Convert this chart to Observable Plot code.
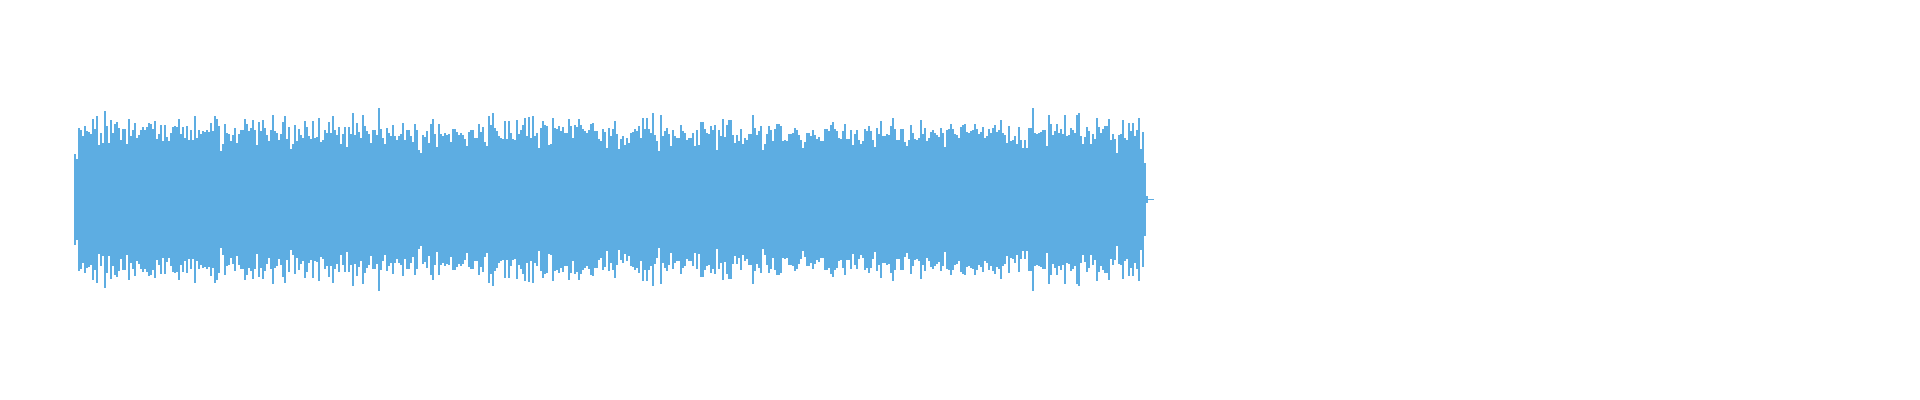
<!DOCTYPE html>
<html>
<head>
<meta charset="utf-8">
<script src="https://cdn.jsdelivr.net/npm/d3@7"></script>
<script src="https://cdn.jsdelivr.net/npm/@observablehq/plot@0.6"></script>
<style>
  html, body { margin: 0; padding: 0; background: #ffffff; }
  #chart { width: 1920px; height: 400px; }
</style>
</head>
<body>
<div id="chart"></div>
<script>
// Waveform peak amplitude per bin (two screen columns per bin).
const peaksA = [
  .46,.41,.72,.70,.64,.74,.69,.68,.66,.81,
  .71,.84,.55,.67,.57,.89,.74,.57,.80,.67,
  .76,.78,.72,.60,.71,.71,.56,.81,.64,.70,
  .77,.62,.65,.70,.73,.70,.73,.77,.76,.71,
  .79,.61,.66,.75,.59,.75,.63,.59,.67,.73,
  .74,.73,.81,.66,.73,.62,.74,.60,.70,.60,
  .84,.62,.70,.66,.69,.68,.70,.68,.77,.69,
  .84,.81,.74,.49,.56,.76,.67,.66,.59,.65,
  .72,.57,.66,.70,.70,.81,.76,.69,.72,.80,
  .70,.55,.78,.69,.80,.72,.65,.59,.70,.85,
  .69,.67,.60,.66,.78,.84,.61,.73,.51,.56,
  .75,.59,.71,.65,.62,.79,.73,.64,.61,.79,
  .62,.63,.82,.58,.60,.70,.67,.78,.67,.84,
  .70,.65,.73,.56,.66,.73
];
const peaksB = [
  .53,.73,.66,.87,.65,.77,.68,.62,.85,.74,
  .69,.66,.57,.70,.70,.65,.92,.71,.62,.56,
  .72,.67,.64,.75,.64,.60,.64,.66,.77,.60,
  .70,.70,.64,.58,.76,.70,.50,.47,.65,.63,
  .69,.57,.76,.81,.66,.53,.76,.66,.64,.67,
  .65,.66,.58,.71,.71,.68,.65,.67,.65,.61,
  .54,.68,.70,.70,.62,.62,.76,.68,.73,.58,
  .54,.84,.75,.87,.72,.69,.64,.62,.61,.79,
  .61,.79,.67,.61,.60,.80,.66,.70,.75,.82,
  .64,.83,.62,.84,.64,.67,.52,.72,.79,.75,
  .74,.55,.56,.82,.72,.71,.74,.69,.73,.67,
  .67,.81,.74,.62,.75,.73,.81,.75,.71,.69,
  .67,.70,.76,.77,.69,.69,.61,.59,.71,.68,
  .52,.72,.64,.71,.79
];
const peaksC = [
  .66,.51,.61,.64,.55,.62,.57,.67,.68,.71,
  .69,.74,.62,.82,.71,.82,.71,.67,.87,.65,
  .59,.49,.85,.64,.69,.72,.66,.54,.70,.64,
  .62,.62,.75,.69,.67,.60,.62,.62,.67,.54,
  .70,.55,.78,.78,.71,.67,.66,.74,.70,.75,
  .50,.70,.64,.81,.63,.75,.80,.80,.65,.57,
  .65,.59,.71,.56,.62,.60,.66,.66,.85,.72,
  .65,.69,.74,.50,.56,.66,.74,.70,.59,.71,
  .76,.76,.74,.59,.60,.59,.66,.66,.67,.72,
  .70,.65,.60,.52,.58,.67,.67,.64,.70,.65,
  .61,.63,.59,.59,.71,.71,.69,.75,.78,.71,
  .69,.62,.61,.69,.76,.61,.61,.70,.55,.66,
  .70,.60,.56,.59,.71,.69,.74,.69,.60,.53,
  .72,.66,.79,.64,.64
];
const peaksD = [
  .66,.65,.74,.82,.71,.60,.60,.71,.71,.58,
  .54,.60,.75,.67,.61,.60,.62,.80,.66,.72,
  .59,.62,.68,.70,.67,.65,.63,.72,.67,.53,
  .70,.71,.76,.71,.66,.65,.62,.73,.75,.76,
  .68,.67,.69,.70,.76,.71,.66,.68,.73,.62,
  .64,.71,.67,.72,.75,.68,.70,.80,.67,.65,
  .57,.74,.59,.60,.64,.56,.73,.60,.52,.60,
  .52,.72,.72,.92,.67,.66,.67,.68,.70,.70,
  .54,.85,.76,.65,.69,.76,.67,.71,.66,.85,
  .64,.65,.72,.70,.67,.85,.87,.64,.56,.63,
  .73,.69,.56,.66,.61,.82,.73,.67,.71,.74,
  .74,.81,.60,.66,.61,.47,.65,.66,.80,.62,
  .60,.77,.69,.77,.64,.70,.82,.51,.68,.37,
  .035,.01,.01,.01
];

const peaks = [...peaksA, ...peaksB, ...peaksC, ...peaksD];
const bins = peaks.map((a, i) => ({i, a}));

const chart = Plot.plot({
  width: 1920,
  height: 400,
  marginLeft: 74,
  marginRight: 1920 - 74 - 2 * peaks.length,
  marginTop: 0,
  marginBottom: 1,
  x: {domain: [0, peaks.length], axis: null},
  y: {domain: [-2, 2], axis: null},
  marks: [
    Plot.rect(bins, {
      x1: "i",
      x2: d => d.i + 1,
      y1: d => -d.a,
      y2: "a",
      fill: "#5dade2",
      shapeRendering: "crispEdges"
    })
  ]
});
document.getElementById("chart").appendChild(chart);
</script>
</body>
</html>
